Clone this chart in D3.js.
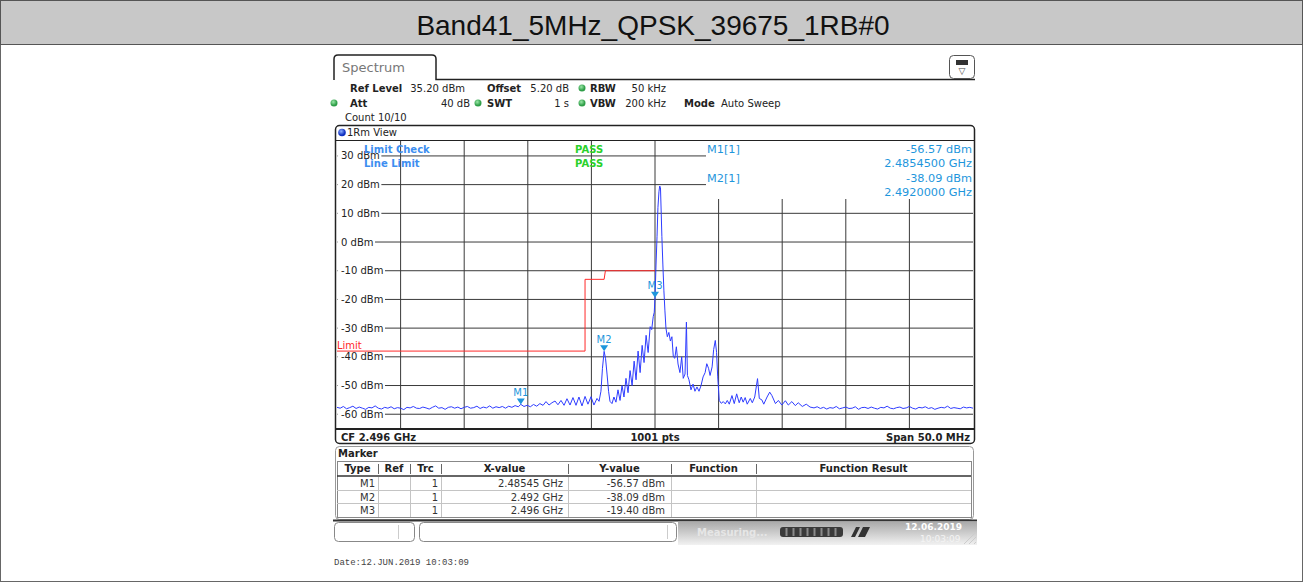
<!DOCTYPE html>
<html>
<head>
<meta charset="utf-8">
<script src="https://cdn.jsdelivr.net/npm/d3@7"></script>
<style>
html, body { margin: 0; padding: 0; background: #fff; }
svg { display: block; font-family: "DejaVu Sans", Verdana, sans-serif; }
</style>
</head>
<body>
<svg id="chart" width="1303" height="582"></svg>
<script>
const title = 'Band41_5MHz_QPSK_39675_1RB#0'
const centerMHz = 2496
const spanMHz = 50
const refLevel = 35.2
const rangeDb = 100
const yTicks = [30, 20, 10, 0, -10, -20, -30, -40, -50, -60]
const xGrid = [2476, 2481, 2486, 2491, 2496, 2501, 2506, 2511, 2516]

// limit line (left side only)
const limitMHz = [2471, 2490.5, 2490.5, 2492.0, 2492.1, 2496]
const limitDbm = [-38, -38, -13, -13, -10, -10]

const markerNames = ['M1', 'M2', 'M3']
const markerMHz = [2485.45, 2492.0, 2496.0]
const markerDbm = [-56.57, -38.09, -19.40]
const markerXText = ['2.48545 GHz', '2.492 GHz', '2.496 GHz']
const markerYText = ['-56.57 dBm', '-38.09 dBm', '-19.40 dBm']
const markerInfo = [['M1[1]', '-56.57 dBm', '2.4854500 GHz'], ['M2[1]', '-38.09 dBm', '2.4920000 GHz']]
const tableHead = ['Type', 'Ref', 'Trc', 'X-value', 'Y-value', 'Function', 'Function Result']

// trace, [MHz, dBm]
const traceLowFloor = [
  [2471.00,-57.6],[2471.25,-57.9],[2471.50,-57.3],[2471.75,-58.1],[2472.00,-57.7],[2472.25,-57.2],[2472.50,-58.0],[2472.75,-57.5],[2473.00,-57.9],[2473.25,-58.3],
  [2473.50,-57.6],[2473.75,-57.8],[2474.00,-57.1],[2474.25,-57.9],[2474.50,-58.2],[2474.75,-57.6],[2475.00,-57.9],[2475.25,-57.4],[2475.50,-58.1],[2475.75,-57.7],
  [2476.00,-57.9],[2476.25,-58.4],[2476.50,-57.6],[2476.75,-57.8],[2477.00,-57.3],[2477.25,-57.9],[2477.50,-58.0],[2477.75,-57.5],[2478.00,-57.8],[2478.25,-58.2],
  [2478.50,-57.6],[2478.75,-57.1],[2479.00,-57.9],[2479.25,-57.7],[2479.50,-58.3],[2479.75,-57.6],[2480.00,-57.4],[2480.25,-57.9],[2480.50,-57.5],[2480.75,-58.1],
  [2481.00,-57.6],[2481.25,-57.3],[2481.50,-57.9],[2481.75,-57.7],[2482.00,-57.2],[2482.25,-58.0],[2482.50,-57.5],[2482.75,-57.8],[2483.00,-57.1],[2483.25,-57.9],
  [2483.50,-57.4],[2483.75,-57.7],[2484.00,-57.3],[2484.25,-57.9],[2484.50,-57.2],[2484.75,-57.6],[2485.00,-57.0]
]
const traceLowSkirt = [
  [2485.25,-57.4],[2485.45,-56.57],[2485.70,-57.3],[2485.95,-56.9],[2486.20,-57.4],[2486.45,-56.6],[2486.70,-57.2],[2486.95,-56.3],[2487.20,-56.9],[2487.43,-55.6],
  [2487.67,-56.8],[2487.90,-56.0],[2488.14,-55.4],[2488.37,-56.7],[2488.61,-55.2],[2488.85,-56.9],[2489.08,-54.6],[2489.32,-56.8],[2489.55,-54.2],[2489.79,-56.9],
  [2490.02,-54.0],[2490.26,-57.1],[2490.50,-53.8],[2490.73,-56.5],[2490.97,-53.9],[2491.20,-56.8],[2491.44,-54.5],[2491.60,-55.5],[2491.75,-52.0],[2491.87,-44.0],
  [2492.00,-38.09],[2492.11,-40.5],[2492.23,-46.0],[2492.35,-52.0],[2492.46,-55.5],[2492.62,-56.3],[2492.77,-54.0],[2492.93,-55.8],[2493.09,-51.5],[2493.25,-55.2],
  [2493.41,-50.0],[2493.56,-54.0],[2493.72,-47.5],[2493.88,-52.5],[2494.04,-44.8],[2494.20,-50.0],[2494.36,-41.5],[2494.51,-48.0],[2494.67,-38.0],[2494.83,-45.5],
  [2494.99,-36.0],[2495.14,-42.0],[2495.30,-32.5],[2495.46,-38.5],[2495.62,-29.5],[2495.74,-30.5],[2495.86,-26.0],[2495.94,-24.5],[2496.00,-19.4]
]
const traceCarrier = [
  [2496.08,-8.0],[2496.16,2.0],[2496.23,12.0],[2496.31,17.5],[2496.37,19.5],[2496.43,19.0],[2496.49,10.0],[2496.54,2.0],[2496.62,-8.0],[2496.70,-17.0],
  [2496.78,-24.0],[2496.86,-30.0],[2496.97,-33.0],[2497.09,-31.5],[2497.21,-34.5],[2497.33,-33.0],[2497.44,-40.0],[2497.56,-40.5],[2497.68,-36.5],[2497.81,-42.5],
  [2497.96,-45.5],[2498.10,-40.0],[2498.22,-47.5],[2498.36,-46.0],[2498.47,-27.9],[2498.55,-46.5],[2498.67,-48.0],[2498.83,-51.5],[2498.99,-49.5],[2499.14,-52.0],
  [2499.30,-50.5],[2499.46,-52.0],[2499.62,-50.0],[2499.78,-47.0],[2499.94,-45.5],[2500.07,-42.4],[2500.21,-44.0],[2500.33,-46.5],[2500.49,-43.5],[2500.61,-37.5],
  [2500.74,-34.3],[2500.84,-38.5],[2500.93,-47.0],[2501.05,-55.2]
]
const traceHighSkirt = [
  [2501.21,-56.2],[2501.37,-55.6],[2501.53,-56.4],[2501.68,-55.2],[2501.84,-56.5],[2502.05,-53.5],[2502.23,-56.3],[2502.42,-52.9],[2502.62,-56.0],[2502.78,-54.0],
  [2502.93,-55.8],[2503.09,-54.2],[2503.25,-56.5],[2503.49,-54.5],[2503.65,-56.0],[2503.84,-54.0],[2504.06,-47.6],[2504.20,-54.5],[2504.40,-55.0],[2504.55,-56.5],
  [2504.81,-54.0],[2505.02,-52.3],[2505.19,-53.5],[2505.47,-56.3],[2505.70,-55.2],[2505.97,-56.8],[2506.25,-55.3],[2506.48,-56.8],[2506.76,-55.6],[2507.03,-57.0],
  [2507.26,-56.0],[2507.58,-57.3],[2507.89,-56.5],[2508.19,-57.5]
]
const traceHighFloor = [
  [2508.50,-57.8],[2508.75,-57.4],[2509.00,-58.0],[2509.25,-57.6],[2509.50,-58.2],[2509.75,-57.7],[2510.00,-57.9],[2510.25,-57.3],[2510.50,-58.1],[2510.75,-57.8],
  [2511.00,-57.5],[2511.25,-58.0],[2511.50,-57.9],[2511.75,-57.4],[2512.00,-58.3],[2512.25,-57.7],[2512.50,-57.6],[2512.75,-58.0],[2513.00,-57.5],[2513.25,-57.9],
  [2513.50,-58.2],[2513.75,-57.6],[2514.00,-57.8],[2514.25,-57.2],[2514.50,-57.9],[2514.75,-58.1],[2515.00,-57.7],[2515.25,-57.5],[2515.50,-58.0],[2515.75,-57.8],
  [2516.00,-57.3],[2516.25,-57.9],[2516.50,-58.2],[2516.75,-57.6],[2517.00,-57.8],[2517.25,-57.4],[2517.50,-58.0],[2517.75,-57.7],[2518.00,-58.3],[2518.25,-57.9],
  [2518.50,-57.6],[2518.75,-57.8],[2519.00,-57.2],[2519.25,-58.0],[2519.50,-57.7],[2519.75,-57.9],[2520.00,-58.1],[2520.25,-57.5],[2520.50,-57.8],[2520.75,-57.6],
  [2521.00,-57.9]
]
const trace = [].concat(traceLowFloor, traceLowSkirt, traceCarrier, traceHighSkirt, traceHighFloor)

const svg = d3.select('#chart')
const plot = { left: 337, right: 973, top: 141, bottom: 428 }
const infoLeft = 706, infoBottom = 199
const markerBlue = '#1e96dc'

const x = d3.scaleLinear().domain([centerMHz - spanMHz / 2, centerMHz + spanMHz / 2]).range([plot.left, plot.right])
const y = d3.scaleLinear().domain([refLevel - rangeDb, refLevel]).range([plot.bottom, plot.top])

const defs = svg.append('defs')
defs.append('clipPath').attr('id', 'plotClip').append('rect')
  .attr('x', plot.left).attr('y', plot.top).attr('width', plot.right - plot.left).attr('height', plot.bottom - plot.top)
const grad = defs.append('linearGradient').attr('id', 'statusGrad').attr('x1', 0).attr('x2', 0).attr('y1', 0).attr('y2', 1)
grad.append('stop').attr('offset', '0%').attr('stop-color', '#a9a9a9')
grad.append('stop').attr('offset', '100%').attr('stop-color', '#f2f2f2')
const dotGrad = defs.append('radialGradient').attr('id', 'dotGrad').attr('cx', '40%').attr('cy', '35%')
dotGrad.append('stop').attr('offset', '0%').attr('stop-color', '#9be8a8')
dotGrad.append('stop').attr('offset', '100%').attr('stop-color', '#2f9e48')
const blueGrad = defs.append('radialGradient').attr('id', 'blueGrad').attr('cx', '40%').attr('cy', '35%')
blueGrad.append('stop').attr('offset', '0%').attr('stop-color', '#8fb0ff')
blueGrad.append('stop').attr('offset', '100%').attr('stop-color', '#1030c0')

// page + title band
svg.append('rect').attr('x', 0.5).attr('y', 0.5).attr('width', 1302).attr('height', 581)
  .attr('fill', '#fff').attr('stroke', '#666')
svg.append('rect').attr('x', 0.5).attr('y', 0.5).attr('width', 1302).attr('height', 44)
  .attr('fill', '#c8c8c8').attr('stroke', '#555')
svg.append('text').attr('x', 653).attr('y', 25).attr('text-anchor', 'middle').attr('dominant-baseline', 'central')
  .style('font-family', '"Liberation Sans", Arial, sans-serif').style('font-size', '28px').attr('fill', '#111')
  .text(title)

// spectrum tab + header
svg.append('path').attr('d', 'M334,80 V59 Q334,55 338,55 H432 Q436,55 436,59 V79.5 H975')
  .attr('fill', 'none').attr('stroke', '#222').attr('stroke-width', 1.5)
svg.append('text').attr('x', 342).attr('y', 67).attr('dominant-baseline', 'central')
  .style('font-size', '13px').attr('fill', '#777').text('Spectrum')
const icon = svg.append('g')
icon.append('rect').attr('x', 949.5).attr('y', 55.5).attr('width', 25).attr('height', 23).attr('rx', 4)
  .attr('fill', '#fff').attr('stroke', '#555')
icon.append('rect').attr('x', 956).attr('y', 60).attr('width', 12).attr('height', 5).attr('fill', '#333')
icon.append('text').attr('x', 962).attr('y', 71).attr('text-anchor', 'middle').attr('dominant-baseline', 'central')
  .style('font-size', '9px').attr('fill', '#444').text('▽')

const headerItems = [
  { t: 'Ref Level', x: 350, y: 88, b: true }, { t: '35.20 dBm', x: 465, y: 88, a: 'end' },
  { t: 'Offset', x: 487, y: 88, b: true }, { t: '5.20 dB', x: 569, y: 88, a: 'end' },
  { t: 'RBW', x: 590, y: 88, b: true }, { t: '50 kHz', x: 666, y: 88, a: 'end' },
  { t: 'Att', x: 350, y: 103, b: true }, { t: '40 dB', x: 470, y: 103, a: 'end' },
  { t: 'SWT', x: 487, y: 103, b: true }, { t: '1 s', x: 569, y: 103, a: 'end' },
  { t: 'VBW', x: 590, y: 103, b: true }, { t: '200 kHz', x: 666, y: 103, a: 'end' },
  { t: 'Mode', x: 684, y: 103, b: true }, { t: 'Auto Sweep', x: 721, y: 103 },
  { t: 'Count 10/10', x: 345, y: 117 }
]
svg.append('g').selectAll('text').data(headerItems).join('text')
  .attr('x', d => d.x).attr('y', d => d.y).attr('dominant-baseline', 'central')
  .attr('text-anchor', d => d.a || 'start')
  .style('font-size', '10px').style('font-weight', d => d.b ? 'bold' : 'normal').attr('fill', '#222')
  .text(d => d.t)
svg.append('g').selectAll('circle').data([[582, 88], [334, 103], [478, 103], [582, 103]]).join('circle')
  .attr('cx', d => d[0]).attr('cy', d => d[1]).attr('r', 3.5).attr('fill', 'url(#dotGrad)')

// trace window frame
svg.append('rect').attr('x', 335.5).attr('y', 125.5).attr('width', 639).attr('height', 318).attr('rx', 4)
  .attr('fill', '#fff').attr('stroke', '#222').attr('stroke-width', 1.5)
svg.append('line').attr('x1', 336).attr('x2', 974).attr('y1', plot.top - 0.5).attr('y2', plot.top - 0.5)
  .attr('stroke', '#222').attr('stroke-width', 1)
svg.append('circle').attr('cx', 342).attr('cy', 132.5).attr('r', 3.8).attr('fill', 'url(#blueGrad)')
svg.append('text').attr('x', 347).attr('y', 132.5).attr('dominant-baseline', 'central')
  .style('font-size', '10px').attr('fill', '#222').text('1Rm View')

// grid
const grid = svg.append('g').attr('stroke', '#3a3a3a').attr('stroke-width', 1)
yTicks.forEach(v => {
  grid.append('line').attr('x1', plot.left).attr('x2', y(v) < infoBottom ? infoLeft : plot.right)
    .attr('y1', y(v)).attr('y2', y(v))
})
xGrid.forEach(f => {
  grid.append('line').attr('x1', x(f)).attr('x2', x(f))
    .attr('y1', x(f) > infoLeft ? infoBottom : plot.top).attr('y2', plot.bottom)
})
const yLabels = svg.append('g')
yTicks.forEach(v => {
  const g = yLabels.append('g')
  const t = g.append('text').attr('x', 341).attr('y', y(v)).attr('dominant-baseline', 'central')
    .style('font-size', '10px').attr('fill', '#222').text(`${v} dBm`)
  const bb = t.node().getBBox()
  g.insert('rect', 'text').attr('x', plot.left + 0.5).attr('y', bb.y + 1).attr('width', bb.x + bb.width - plot.left + 1)
    .attr('height', bb.height - 2).attr('fill', '#fff')
})

// limit line
const limitPts = limitMHz.map((f, i) => [f, limitDbm[i]])
svg.append('path').datum(limitPts)
  .attr('d', d3.line().x(d => x(d[0])).y(d => y(d[1])))
  .attr('fill', 'none').attr('stroke', '#ff2a2a').attr('stroke-width', 1)
svg.append('text').attr('x', 337).attr('y', y(limitDbm[0]) - 6).attr('dominant-baseline', 'central')
  .style('font-size', '10px').attr('fill', '#ff2a2a').text('Limit')

// trace
svg.append('path').datum(trace).attr('clip-path', 'url(#plotClip)')
  .attr('d', d3.line().x(d => x(d[0])).y(d => y(d[1])))
  .attr('fill', 'none').attr('stroke', '#2e3cff').attr('stroke-width', 1)

// markers
const mk = svg.append('g').selectAll('g').data(markerNames).join('g')
mk.append('path').attr('d', (d, i) => {
  const mx = x(markerMHz[i]), my = y(markerDbm[i])
  return `M${mx - 4},${my - 6} L${mx + 4},${my - 6} L${mx},${my} Z`
}).attr('fill', markerBlue)
mk.append('text').attr('x', (d, i) => x(markerMHz[i])).attr('y', (d, i) => y(markerDbm[i]) - 12)
  .attr('text-anchor', 'middle').attr('dominant-baseline', 'central')
  .style('font-size', '10px').attr('fill', markerBlue).text(d => d)

// limit check / marker info overlay
const overlay = svg.append('g').style('font-size', '10px')
overlay.append('text').attr('x', 364).attr('y', 149).attr('dominant-baseline', 'central')
  .style('font-weight', 'bold').attr('fill', '#3d8ef0').text('Limit Check')
overlay.append('text').attr('x', 364).attr('y', 163).attr('dominant-baseline', 'central')
  .style('font-weight', 'bold').attr('fill', '#3d8ef0').text('Line Limit')
overlay.selectAll('.pass').data([149, 163]).join('text').attr('class', 'pass')
  .attr('x', 575).attr('y', d => d).attr('dominant-baseline', 'central')
  .style('font-weight', 'bold').attr('fill', '#2ad12a').text('PASS')
markerInfo.forEach((m, i) => {
  const y0 = 149 + i * 29
  overlay.append('text').attr('x', 707).attr('y', y0).attr('dominant-baseline', 'central')
    .style('font-size', '11.3px').attr('fill', markerBlue).text(m[0])
  overlay.append('text').attr('x', 972).attr('y', y0).attr('text-anchor', 'end').attr('dominant-baseline', 'central')
    .style('font-size', '11.3px').attr('fill', markerBlue).text(m[1])
  overlay.append('text').attr('x', 972).attr('y', y0 + 14).attr('text-anchor', 'end').attr('dominant-baseline', 'central')
    .style('font-size', '11.3px').attr('fill', markerBlue).text(m[2])
})

// bottom strip of trace window
svg.append('line').attr('x1', 336).attr('x2', 974).attr('y1', plot.bottom + 1).attr('y2', plot.bottom + 1)
  .attr('stroke', '#222').attr('stroke-width', 2)
const foot = svg.append('g').style('font-size', '10px').style('font-weight', 'bold').attr('fill', '#222')
foot.append('text').attr('x', 341).attr('y', 437).attr('dominant-baseline', 'central').text(`CF ${(centerMHz / 1000).toFixed(3)} GHz`)
foot.append('text').attr('x', 655).attr('y', 437).attr('text-anchor', 'middle').attr('dominant-baseline', 'central').text('1001 pts')
foot.append('text').attr('x', 970).attr('y', 437).attr('text-anchor', 'end').attr('dominant-baseline', 'central').text(`Span ${spanMHz.toFixed(1)} MHz`)

// marker table
svg.append('rect').attr('x', 335.5).attr('y', 446.5).attr('width', 638).attr('height', 73).attr('rx', 4)
  .attr('fill', '#fff').attr('stroke', '#999')
svg.append('text').attr('x', 338).attr('y', 453).attr('dominant-baseline', 'central')
  .style('font-size', '10px').style('font-weight', 'bold').attr('fill', '#222').text('Marker')
const cols = [337, 378, 410, 441, 568, 671, 756, 971]
const rowY = [461, 476, 490, 503, 517]
const table = svg.append('g')
table.append('rect').attr('x', cols[0] + 0.5).attr('y', rowY[0] + 0.5).attr('width', cols[7] - cols[0]).attr('height', rowY[4] - rowY[0])
  .attr('fill', '#fff').attr('stroke', '#888')
rowY.slice(2, 4).forEach(ry => table.append('line').attr('x1', cols[0]).attr('x2', cols[7]).attr('y1', ry + 0.5).attr('y2', ry + 0.5).attr('stroke', '#c4c4c4'))
table.append('line').attr('x1', cols[0]).attr('x2', cols[7]).attr('y1', rowY[1]).attr('y2', rowY[1]).attr('stroke', '#333').attr('stroke-width', 1.5)
cols.slice(1, 7).forEach(cx => {
  table.append('line').attr('x1', cx + 0.5).attr('x2', cx + 0.5).attr('y1', rowY[0] + 3).attr('y2', rowY[1] - 2).attr('stroke', '#666')
  table.append('line').attr('x1', cx + 0.5).attr('x2', cx + 0.5).attr('y1', rowY[1] + 1).attr('y2', rowY[4]).attr('stroke', '#c4c4c4')
})
table.selectAll('.th').data(tableHead).join('text').attr('class', 'th')
  .attr('x', (d, i) => (cols[i] + cols[i + 1]) / 2).attr('y', 468.5)
  .attr('text-anchor', 'middle').attr('dominant-baseline', 'central')
  .style('font-size', '10px').style('font-weight', 'bold').attr('fill', '#222').text(d => d)
markerNames.forEach((name, i) => {
  const cy = (rowY[i + 1] + rowY[i + 2]) / 2 + 0.5
  const cells = [[name, cols[1] - 3], ['1', cols[3] - 3], [markerXText[i], cols[4] - 5], [markerYText[i], cols[5] - 6]]
  cells.forEach(c => table.append('text').attr('x', c[1]).attr('y', cy).attr('text-anchor', 'end')
    .attr('dominant-baseline', 'central').style('font-size', '10px').attr('fill', '#333').text(c[0]))
})

// status bar
const status = svg.append('g')
status.append('line').attr('x1', 333).attr('x2', 977).attr('y1', 520.5).attr('y2', 520.5).attr('stroke', '#333').attr('stroke-width', 2)
status.append('rect').attr('x', 678).attr('y', 521.5).attr('width', 299).attr('height', 23.5).attr('fill', 'url(#statusGrad)')
status.append('rect').attr('x', 334.5).attr('y', 522.5).attr('width', 80).attr('height', 19).attr('rx', 4).attr('fill', '#fff').attr('stroke', '#888')
status.append('line').attr('x1', 398.5).attr('x2', 398.5).attr('y1', 525).attr('y2', 539).attr('stroke', '#ccc')
status.append('rect').attr('x', 419.5).attr('y', 522.5).attr('width', 257).attr('height', 19).attr('rx', 4).attr('fill', '#fff').attr('stroke', '#888')
status.append('line').attr('x1', 667.5).attr('x2', 667.5).attr('y1', 525).attr('y2', 539).attr('stroke', '#ccc')
status.append('text').attr('x', 697).attr('y', 532).attr('dominant-baseline', 'central')
  .style('font-size', '10px').style('font-weight', 'bold').attr('fill', '#e6e6e6').text('Measuring...')
status.append('rect').attr('x', 780).attr('y', 527).attr('width', 63).attr('height', 10).attr('rx', 3).attr('fill', '#3a3a3a')
status.selectAll('.seg').data(d3.range(786, 838, 7)).join('line').attr('class', 'seg')
  .attr('x1', d => d + 0.5).attr('x2', d => d + 0.5).attr('y1', 528).attr('y2', 536).attr('stroke', '#8a8a8a').attr('stroke-width', 2)
status.append('path').attr('d', 'M851,537 L856,527 L860,527 L855,537 Z M858,537 L863,527 L870,527 L865,537 Z').attr('fill', '#333')
status.append('text').attr('x', 905).attr('y', 527).attr('dominant-baseline', 'central')
  .style('font-size', '9px').style('font-weight', 'bold').attr('fill', '#fff').text('12.06.2019')
status.append('text').attr('x', 920).attr('y', 539).attr('dominant-baseline', 'central')
  .style('font-size', '9px').attr('fill', '#f4f4f4').text('10:03:09')
status.selectAll('.grip').data([0, 5, 10]).join('line').attr('class', 'grip')
  .attr('x1', d => 964 + d).attr('y1', 544).attr('x2', 976).attr('y2', d => 532 + d).attr('stroke', '#ccc')

// date line
svg.append('text').attr('x', 334).attr('y', 563).attr('dominant-baseline', 'central')
  .style('font-family', '"Liberation Mono", "DejaVu Sans Mono", monospace').style('font-size', '9px')
  .attr('fill', '#444').text('Date:12.JUN.2019 10:03:09')
</script>
</body>
</html>
